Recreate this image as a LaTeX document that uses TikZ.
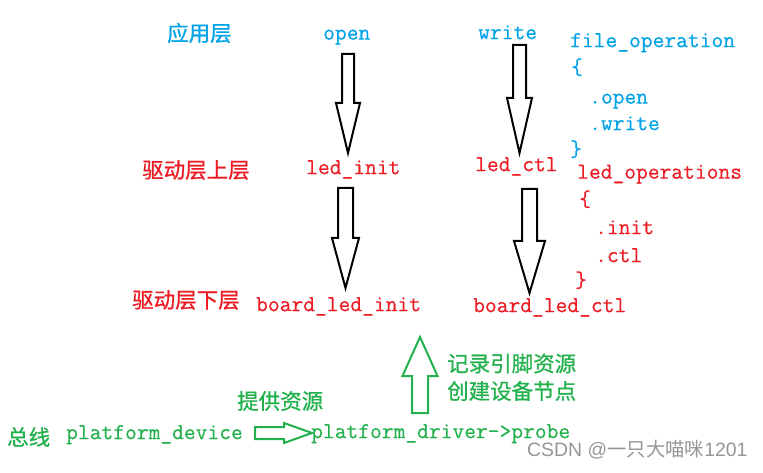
\documentclass[tikz,border=0pt]{standalone}
\usepackage{fontspec}
\newfontfamily\cjk{Noto Sans CJK SC}[FakeBold=0.8]
\newfontfamily\wmcjk{Noto Sans CJK SC}
\newfontfamily\wmfont{Liberation Sans}
\newfontfamily\codefont{Latin Modern Mono}[FakeBold=0.45]
\definecolor{cblue}{RGB}{0,162,232}
\definecolor{cred}{RGB}{237,28,36}
\definecolor{cgreen}{RGB}{34,177,76}
\definecolor{cgray}{RGB}{150,150,150}
\tikzset{
  code/.style={inner sep=0pt, anchor=mid west, yshift=-4pt, font=\codefont\fontsize{22.86}{26}\selectfont},
  zh/.style={inner sep=0pt, anchor=west, font=\cjk\fontsize{21.5}{26}\selectfont},
  blockarrow/.style={draw=black, line width=2pt, line join=miter, fill=white},
  garrow/.style={draw=cgreen, line width=2pt, line join=miter, fill=white},
  pics/vblock/.style args={#1/#2/#3/#4}{code={
    \draw[blockarrow] (-#1,0) -- (#1,0) -- (#1,#3) -- (#2,#3) -- (0,#4) -- (-#2,#3) -- (-#1,#3) -- cycle;}},
  pics/gvblock/.style args={#1/#2/#3/#4}{code={
    \draw[garrow] (-#1,0) -- (#1,0) -- (#1,#3) -- (#2,#3) -- (0,#4) -- (-#2,#3) -- (-#1,#3) -- cycle;}},
  pics/ghblock/.style args={#1/#2/#3/#4}{code={
    \draw[garrow] (0,-#1) -- (0,#1) -- (#3,#1) -- (#3,#2) -- (#4,0) -- (#3,-#2) -- (#3,-#1) -- cycle;}},
}
\begin{document}
\begin{tikzpicture}[x=1pt,y=-1pt]
\useasboundingbox[fill=white] (0,0) rectangle (763,473);

% application layer
\node[zh,text=cblue] (app) at (167,33) {应用层};
\node[code,text=cblue] (open) at (323,33.5) {open};
\node[code,text=cblue] (write) at (478,33) {write};

% file_operation block
\node[code,text=cblue] (fop) at (570,41) {file\_operation};
\node[code,text=cblue] (fopl) at (571,68) {\{};
\node[code,text=cblue] (fopo) at (589,97.5) {.open};
\node[code,text=cblue] (fopw) at (589,124) {.write};
\node[code,text=cblue] (fopr) at (570,150) {\}};

% led_operations block
\node[code,text=cred] (lop) at (577,172.5) {led\_operations};
\node[code,text=cred] (lopl) at (579,200) {\{};
\node[code,text=cred] (lopi) at (595,228) {.init};
\node[code,text=cred] (lopc) at (595,256) {.ctl};
\node[code,text=cred] (lopr) at (575,281) {\}};

% upper driver layer
\node[zh,text=cred] (upper) at (142,170) {驱动层上层};
\node[code,text=cred] (ledinit) at (306,168) {led\_init};
\node[code,text=cred] (ledctl) at (475,165) {led\_ctl};

% lower driver layer
\node[zh,text=cred] (lower) at (132,300) {驱动层下层};
\node[code,text=cred] (binit) at (256,305) {board\_led\_init};
\node[code,text=cred] (bctl) at (473,306) {board\_led\_ctl};

% bus
\node[zh,text=cgreen] (bus) at (7,437) {总线};
\node[code,text=cgreen] (pdev) at (66,433) {platform\_device};
\node[code,text=cgreen] (pdrv) at (311,432) {platform\_driver->probe};
\node[zh,text=cgreen] (give) at (237,401) {提供资源};
\node[zh,text=cgreen] (rec1) at (447,363.5) {记录引脚资源};
\node[zh,text=cgreen] (rec2) at (447,391) {创建设备节点};

% block arrows
\pic at (348,54) {vblock=6/12/49/99};
\pic at (519.5,45) {vblock=6.5/12.5/53/108};
\pic at (345.5,188) {vblock=7.5/13.5/50/100};
\pic at (529.5,189) {vblock=7.5/15.5/52/104};
\pic at (420,413) {gvblock=8/17.5/-37/-76};
\pic at (255,433) {ghblock=6/10/29/57};

% watermark
\node[inner sep=0pt, anchor=mid west, text=cgray, font=\wmfont\fontsize{19.4}{22}\selectfont] (wm) at (527,454) {CSDN @{\wmcjk 一只大喵咪}1201};
\end{tikzpicture}
\end{document}
